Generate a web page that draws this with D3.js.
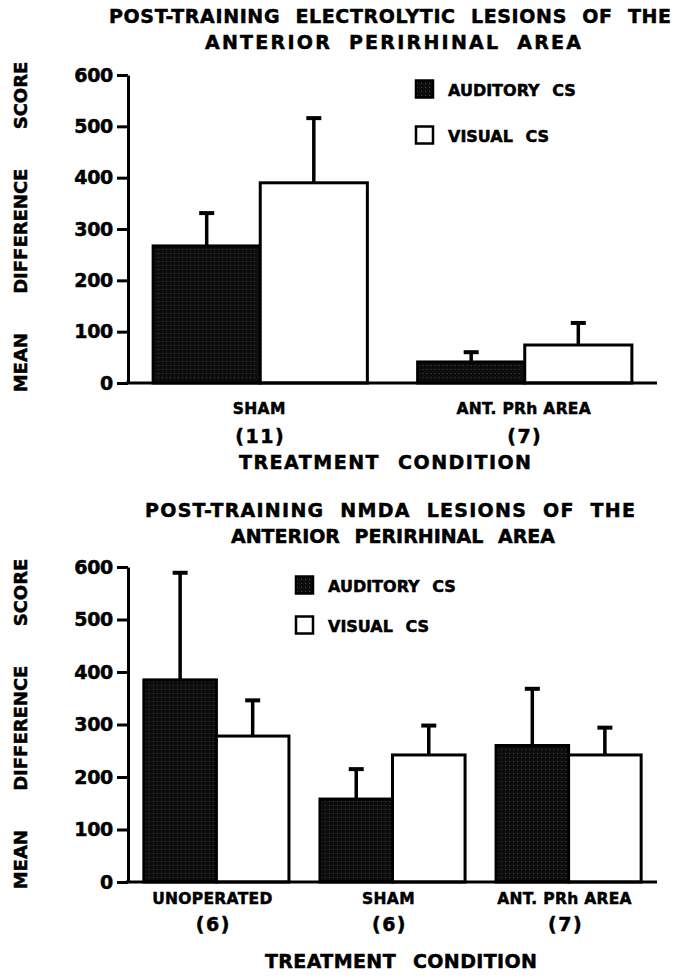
<!DOCTYPE html>
<html>
<head>
<meta charset="utf-8">
<script src="https://cdn.jsdelivr.net/npm/d3@7"></script>
<style>
  body { margin: 0; background: #fff; }
  text { font-family: "DejaVu Sans", sans-serif; font-weight: bold; fill: #000; stroke: #000; stroke-width: 0.5; }
</style>
</head>
<body>
<svg id="chart" width="681" height="980"></svg>
<script>
// ---- data ----
var topCategories = ["SHAM", "ANT. PRh AREA"]
var topN = ["(11)", "(7)"]
var topAuditory = [267, 41]
var topAuditorySem = [64, 19]
var topVisual = [390, 74]
var topVisualSem = [126, 43]

var botCategories = ["UNOPERATED", "SHAM", "ANT. PRh AREA"]
var botN = ["(6)", "(6)", "(7)"]
var botAuditory = [385, 158, 260]
var botAuditorySem = [204, 57, 108]
var botVisual = [278, 242, 242]
var botVisualSem = [68, 56, 52]

var yTicks = [0, 100, 200, 300, 400, 500, 600]
var seriesNames = ["AUDITORY CS", "VISUAL CS"]

var svg = d3.select("#chart")

// stipple fill for the dark bars
var pat = svg.append("defs").append("pattern")
  .attr("id", "stip").attr("width", 4).attr("height", 4)
  .attr("patternUnits", "userSpaceOnUse")
pat.append("rect").attr("width", 4).attr("height", 4).attr("fill", "#0d0d0d")
pat.append("rect").attr("x", 1).attr("y", 1).attr("width", 1).attr("height", 1).attr("fill", "#444")

function drawPanel(cfg) {
  var g = svg.append("g")

  var x = d3.scaleBand().domain(cfg.cats).range([128, 657])
    .paddingInner(cfg.pi).paddingOuter(cfg.po)
  var x1 = d3.scaleBand().domain([0, 1]).range([0, x.bandwidth()])
  var y = d3.scaleLinear().domain([0, 600]).range(cfg.yRange)

  // titles
  g.selectAll(".ttl").data(cfg.title).enter().append("text")
    .attr("x", function(d, i) { return cfg.titleX[i] })
    .attr("y", function(d, i) { return cfg.titleY + i * 26 })
    .attr("text-anchor", "middle").attr("font-size", 19)
    .attr("word-spacing", 8)
    .attr("textLength", function(d, i) { return cfg.titleLen[i] })
    .attr("lengthAdjust", "spacing")
    .text(function(d) { return d })

  // y axis title
  g.append("text")
    .attr("transform", "translate(27," + cfg.yTitleY + ") rotate(-90)")
    .attr("text-anchor", "middle").attr("font-size", 18)
    .attr("word-spacing", 33)
    .text("MEAN DIFFERENCE SCORE")

  // y axis
  var ax = g.append("g").attr("transform", "translate(128,0)")
    .call(d3.axisLeft(y).tickValues(yTicks).tickSize(11).tickSizeOuter(0).tickPadding(4))
  ax.select(".domain").attr("stroke-width", 3)
  ax.selectAll(".tick line").attr("stroke-width", 3)
  ax.selectAll(".tick text").attr("font-size", 19).attr("font-family", "DejaVu Sans")
    .attr("font-weight", "bold").attr("letter-spacing", -0.3)

  // bars
  var groups = g.selectAll(".grp").data(cfg.cats).enter().append("g")
    .attr("transform", function(d) { return "translate(" + x(d) + ",0)" })

  var vals = function(i) {
    return [
      { s: 0, v: cfg.aud[i], e: cfg.audSem[i] },
      { s: 1, v: cfg.vis[i], e: cfg.visSem[i] }
    ]
  }

  // error bars (drawn first so the bar top covers the stem)
  groups.each(function(c, i) {
    var gg = d3.select(this)
    var d = vals(i)
    gg.selectAll(".eb").data(d).enter().append("line")
      .attr("x1", function(p) { return x1(p.s) + x1.bandwidth() / 2 })
      .attr("x2", function(p) { return x1(p.s) + x1.bandwidth() / 2 })
      .attr("y1", function(p) { return y(p.v) })
      .attr("y2", function(p) { return y(p.v + p.e) })
      .attr("stroke", "#000").attr("stroke-width", 3.5)
    gg.selectAll(".cap").data(d).enter().append("line")
      .attr("x1", function(p) { return x1(p.s) + x1.bandwidth() / 2 - 7.5 })
      .attr("x2", function(p) { return x1(p.s) + x1.bandwidth() / 2 + 7.5 })
      .attr("y1", function(p) { return y(p.v + p.e) })
      .attr("y2", function(p) { return y(p.v + p.e) })
      .attr("stroke", "#000").attr("stroke-width", 4)
    gg.selectAll(".bar").data(d).enter().append("rect")
      .attr("x", function(p) { return x1(p.s) })
      .attr("y", function(p) { return y(p.v) })
      .attr("width", x1.bandwidth())
      .attr("height", function(p) { return y(0) - y(p.v) })
      .attr("fill", function(p) { return p.s === 0 ? "url(#stip)" : "#fff" })
      .attr("stroke", "#000").attr("stroke-width", 3)
  })

  // baseline
  g.append("line").attr("x1", 126).attr("x2", 657)
    .attr("y1", y(0)).attr("y2", y(0))
    .attr("stroke", "#000").attr("stroke-width", 3)

  // category labels
  g.selectAll(".cat").data(cfg.cats).enter().append("text")
    .attr("x", function(d) { return x(d) + x.bandwidth() / 2 + cfg.catDx })
    .attr("y", y(0) + cfg.catDy).attr("text-anchor", "middle").attr("font-size", 15.5)
    .attr("letter-spacing", 0.3)
    .text(function(d) { return d })
  g.selectAll(".n").data(cfg.n).enter().append("text")
    .attr("x", function(d, i) { return x(cfg.cats[i]) + x.bandwidth() / 2 + cfg.catDx + 1 })
    .attr("y", y(0) + cfg.nDy).attr("text-anchor", "middle").attr("font-size", 19)
    .attr("letter-spacing", 1.5)
    .text(function(d) { return d })
  g.append("text").attr("x", cfg.xTitleX).attr("y", cfg.xTitleY)
    .attr("text-anchor", "middle").attr("font-size", 19)
    .attr("word-spacing", 10)
    .attr("textLength", cfg.xTitleLen).attr("lengthAdjust", "spacing")
    .text("TREATMENT CONDITION")

  // legend
  var lg = g.selectAll(".leg").data(seriesNames).enter().append("g")
    .attr("transform", function(d, i) { return "translate(" + cfg.legX + "," + (cfg.legY + i * cfg.legGap) + ")" })
  lg.append("rect").attr("x", 0).attr("y", -9.5).attr("width", 17).attr("height", 17)
    .attr("fill", function(d, i) { return i === 0 ? "url(#stip)" : "#fff" })
    .attr("stroke", "#000").attr("stroke-width", 2.5)
  lg.append("text").attr("x", 32).attr("y", 6).attr("font-size", 16)
    .attr("word-spacing", 7)
    .text(function(d) { return d })
}

drawPanel({
  title: ["POST-TRAINING ELECTROLYTIC LESIONS OF THE", "ANTERIOR PERIRHINAL AREA"],
  titleX: [390, 393], titleY: 23, titleLen: [562, 376],
  yTitleY: 227,
  cats: topCategories, n: topN,
  aud: topAuditory, audSem: topAuditorySem,
  vis: topVisual, visSem: topVisualSem,
  pi: 0.19, po: 0.095,
  yRange: [383, 75],
  catDx: -1, catDy: 31, nDy: 60,
  xTitleX: 385, xTitleY: 469, xTitleLen: 292,
  legX: 416, legY: 90, legGap: 46
})

drawPanel({
  title: ["POST-TRAINING NMDA LESIONS OF THE", "ANTERIOR PERIRHINAL AREA"],
  titleX: [390, 393], titleY: 517, titleLen: [490, 324],
  yTitleY: 724,
  cats: botCategories, n: botN,
  aud: botAuditory, audSem: botAuditorySem,
  vis: botVisual, visSem: botVisualSem,
  pi: 0.176, po: 0.09,
  yRange: [882, 567],
  catDx: -4, catDy: 22, nDy: 49,
  xTitleX: 401, xTitleY: 968, xTitleLen: 272,
  legX: 296, legY: 586, legGap: 40
})
</script>
</body>
</html>
